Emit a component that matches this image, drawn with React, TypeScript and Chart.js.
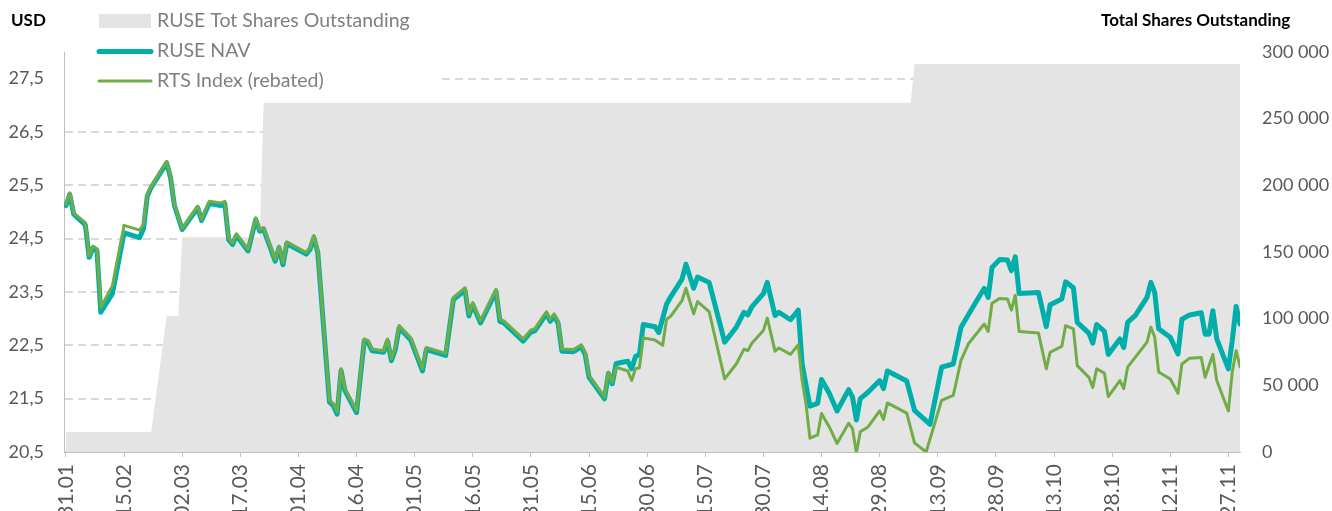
import React, { useEffect, useRef } from 'react';
import { Chart, registerables } from 'chart.js';

Chart.register(...registerables);

// ---- Data ----
const X_TICK_LABELS = ['31.01', '15.02', '02.03', '17.03', '01.04', '16.04', '01.05', '16.05', '31.05', '15.06', '30.06', '15.07', '30.07', '14.08', '29.08', '13.09', '28.09', '13.10', '28.10', '12.11', '27.11'];
const X_TICK_STEP = 15; // days between labels
const X_LAST_DAY = 303;

const LEFT_TICKS = [20.5, 21.5, 22.5, 23.5, 24.5, 25.5, 26.5, 27.5];
const LEFT_MIN = 20.5;
const LEFT_MAX = 28;
const RIGHT_MIN = 0;
const RIGHT_MAX = 300000;
const RIGHT_STEP = 50000;

// day offsets from 31.01
const SHARE_DAYS = [0, 22, 26, 29, 30, 50, 51, 218, 219, 303];
const SHARE_VALUES = [15000, 15000, 102000, 102000, 161000, 161000, 262000, 262000, 291000, 291000];

const NAV_DAYS = [0, 1, 2, 5, 6, 7, 8, 9, 12, 15, 19, 20, 21, 22, 26, 27, 28, 30, 34, 35, 37, 40, 41, 42, 43, 44, 47, 49, 50, 51, 54, 55, 56, 57, 62, 63, 64, 65, 68, 69, 70, 71, 72, 75, 77, 78, 79, 82, 83, 84, 85, 86, 89, 92, 93, 98, 100, 103, 104, 105, 107, 111, 112, 113, 118, 120, 121, 124, 125, 126, 127, 128, 131, 133, 134, 135, 139, 140, 141, 142,
  145, 146, 147, 148, 149, 152, 153, 155, 156, 159, 160, 162, 163, 166, 170, 173, 175, 176, 177, 180, 181, 183, 184, 187, 189, 190, 192, 194, 195, 197, 199, 202, 203, 204, 205, 207, 210, 211, 212, 217, 219, 223, 226, 229, 231, 234, 237, 238, 239, 241, 243, 244, 245, 246, 251, 253, 254, 257, 258, 260, 261, 264, 265, 266, 268, 269, 272, 273, 274, 276, 279, 280, 281, 282, 285, 287, 288, 290, 293, 294, 295, 296, 297, 300, 301, 302, 303];
const NAV_VALUES = [25.12, 25.33, 24.96, 24.76, 24.15, 24.33, 24.28, 23.12, 23.47, 24.61, 24.52, 24.68, 25.30, 25.46, 25.92, 25.64, 25.12, 24.67, 25.08, 24.84, 25.16, 25.12, 25.16, 24.48, 24.39, 24.56, 24.27, 24.86, 24.64, 24.68, 24.08, 24.33, 24.01, 24.41, 24.21, 24.30, 24.52, 24.24, 21.44, 21.37, 21.21, 22.03, 21.65, 21.24, 22.59, 22.55, 22.40, 22.37, 22.58, 22.21, 22.42, 22.83, 22.60, 22.02, 22.42, 22.31, 23.36, 23.53, 23.05, 23.26, 22.92, 23.51, 22.95, 22.92, 22.58, 22.75, 22.77, 23.09, 22.95, 23.05, 22.92, 22.39, 22.38, 22.47, 22.33, 21.90, 21.50, 21.97, 21.78, 22.16,
  22.20, 22.06, 22.29, 22.33, 22.89, 22.85, 22.74, 23.27, 23.40, 23.74, 24.02, 23.57, 23.78, 23.68, 22.56, 22.84, 23.12, 23.07, 23.22, 23.47, 23.68, 23.06, 23.12, 22.98, 23.16, 22.15, 21.36, 21.41, 21.86, 21.60, 21.27, 21.67, 21.53, 21.10, 21.50, 21.62, 21.84, 21.69, 22.02, 21.83, 21.28, 21.02, 22.09, 22.15, 22.84, 23.21, 23.57, 23.40, 23.96, 24.11, 24.10, 23.90, 24.16, 23.47, 23.49, 22.85, 23.26, 23.37, 23.69, 23.58, 22.93, 22.73, 22.54, 22.89, 22.76, 22.33, 22.62, 22.46, 22.93, 23.06, 23.40, 23.68, 23.49, 22.81, 22.65, 22.34, 22.99, 23.07, 23.11, 22.71, 22.71, 23.15, 22.62, 22.06, 22.59, 23.23, 22.90];

const RTS_DAYS = [0, 1, 2, 5, 6, 7, 8, 9, 12, 15, 19, 20, 21, 22, 26, 27, 28, 30, 34, 35, 37, 40, 41, 42, 43, 44, 47, 49, 50, 51, 54, 55, 56, 57, 62, 63, 64, 65, 68, 69, 70, 71, 72, 75, 77, 78, 79, 82, 83, 84, 85, 86, 89, 92, 93, 98, 100, 103, 104, 105, 107, 111, 112, 113, 118, 120, 121, 124, 125, 126, 127, 128, 131, 133, 134, 135, 139, 140, 141, 142,
  145, 146, 147, 148, 149, 152, 154, 155, 156, 159, 160, 162, 163, 166, 170, 173, 175, 176, 177, 180, 181, 183, 184, 187, 189, 190, 191, 192, 194, 195, 197, 199, 202, 203, 204, 205, 207, 210, 211, 212, 217, 219, 222, 226, 229, 231, 233, 237, 238, 239, 241, 243, 244, 245, 246, 251, 253, 254, 257, 258, 260, 261, 264, 265, 266, 268, 269, 272, 273, 274, 279, 280, 281, 282, 285, 287, 288, 290, 293, 294, 296, 297, 300, 301, 302, 303];
const RTS_VALUES = [25.14, 25.36, 24.98, 24.80, 24.18, 24.36, 24.31, 23.21, 23.62, 24.75, 24.66, 24.77, 25.33, 25.48, 25.95, 25.67, 25.14, 24.69, 25.11, 24.86, 25.20, 25.17, 25.20, 24.51, 24.42, 24.59, 24.30, 24.89, 24.67, 24.71, 24.11, 24.36, 24.05, 24.44, 24.24, 24.33, 24.56, 24.27, 21.47, 21.41, 21.25, 22.06, 21.69, 21.28, 22.62, 22.59, 22.43, 22.40, 22.62, 22.25, 22.46, 22.87, 22.64, 22.06, 22.46, 22.35, 23.40, 23.58, 23.09, 23.30, 22.96, 23.55, 22.99, 22.96, 22.62, 22.79, 22.81, 23.13, 22.99, 23.09, 22.96, 22.43, 22.42, 22.51, 22.37, 21.94, 21.53, 22.00, 21.81, 22.09,
  22.02, 21.84, 22.06, 22.08, 22.64, 22.60, 22.50, 22.99, 23.04, 23.34, 23.57, 23.09, 23.32, 23.13, 21.87, 22.15, 22.43, 22.40, 22.54, 22.78, 23.01, 22.39, 22.45, 22.33, 22.51, 21.84, 21.40, 20.76, 20.82, 21.22, 20.97, 20.66, 21.04, 20.94, 20.48, 20.88, 20.97, 21.27, 21.11, 21.42, 21.23, 20.67, 20.50, 21.47, 21.56, 22.22, 22.54, 22.90, 22.76, 23.29, 23.38, 23.37, 23.16, 23.44, 22.76, 22.73, 22.06, 22.37, 22.48, 22.87, 22.81, 22.12, 21.90, 21.71, 22.06, 21.98, 21.54, 21.84, 21.69, 22.09, 22.56, 22.84, 22.65, 22.00, 21.87, 21.60, 22.15, 22.26, 22.27, 21.90, 22.33, 21.84, 21.27, 22.00, 22.40, 22.10];

const SERIES_NAMES = ['RUSE Tot Shares Outstanding', 'RUSE NAV', 'RTS Index (rebated)'];
const LEFT_TITLE = 'USD';
const RIGHT_TITLE = 'Total Shares Outstanding';

// ---- Styles ----
const FONT = 'Lato, "Open Sans", sans-serif';
const AREA_COLOR = '#e4e4e4';
const NAV_COLOR = '#00aeaa';
const RTS_COLOR = '#70ad47';
const TICK_COLOR = '#595959';
const LEGEND_COLOR = '#7f7f7f';
const AXIS_COLOR = '#bfbfbf';
const GRID_COLOR = '#d9d9d9';

const toPoints = (xs: number[], ys: number[]) => xs.map((x, i) => ({ x, y: ys[i] }));
const fmtThousands = (v: number) => String(Math.round(v)).replace(/\B(?=(\d{3})+(?!\d))/g, ' ');

const overlayPlugin = {
  id: 'overlay',
  beforeDatasetsDraw(chart: any) {
    const { ctx, chartArea } = chart;
    ctx.save();
    ctx.fillStyle = '#ffffff';
    ctx.fillRect(chartArea.left + 1, chartArea.top, 440 - chartArea.left - 1, 44);
    ctx.restore();
  },
  afterDraw(chart: any) {
    const { ctx } = chart;
    ctx.save();
    ctx.textBaseline = 'middle';
    ctx.textAlign = 'left';
    // axis titles
    ctx.fillStyle = '#000000';
    ctx.font = `bold 17px ${FONT}`;
    ctx.fillText(LEFT_TITLE, 11, 21);
    ctx.fillText(RIGHT_TITLE, 1101, 21);
    // legend
    ctx.font = `19.5px ${FONT}`;
    ctx.fillStyle = AREA_COLOR;
    ctx.fillRect(99, 14, 52, 14);
    ctx.lineCap = 'round';
    ctx.strokeStyle = NAV_COLOR;
    ctx.lineWidth = 5;
    ctx.beginPath();
    ctx.moveTo(99, 51.5);
    ctx.lineTo(151, 51.5);
    ctx.stroke();
    ctx.strokeStyle = RTS_COLOR;
    ctx.lineWidth = 3;
    ctx.beginPath();
    ctx.moveTo(99, 81);
    ctx.lineTo(151, 81);
    ctx.stroke();
    ctx.fillStyle = LEGEND_COLOR;
    ctx.fillText(SERIES_NAMES[0], 157, 21);
    ctx.fillText(SERIES_NAMES[1], 157, 51);
    ctx.fillText(SERIES_NAMES[2], 157, 81);
    ctx.restore();
  },
};

export default function App() {
  const canvasRef = useRef<HTMLCanvasElement | null>(null);

  useEffect(() => {
    const canvas = canvasRef.current;
    if (!canvas) return;
    const chart = new Chart(canvas, {
      type: 'line',
      data: {
        datasets: [
          {
            label: SERIES_NAMES[2],
            data: toPoints(RTS_DAYS, RTS_VALUES),
            borderColor: RTS_COLOR,
            borderWidth: 3,
            pointRadius: 0,
            tension: 0,
            borderJoinStyle: 'round',
            borderCapStyle: 'round',
            yAxisID: 'y',
            order: 1,
          },
          {
            label: SERIES_NAMES[1],
            data: toPoints(NAV_DAYS, NAV_VALUES),
            borderColor: NAV_COLOR,
            borderWidth: 5,
            pointRadius: 0,
            tension: 0,
            borderJoinStyle: 'round',
            borderCapStyle: 'round',
            yAxisID: 'y',
            order: 2,
          },
          {
            label: SERIES_NAMES[0],
            data: toPoints(SHARE_DAYS, SHARE_VALUES),
            borderWidth: 0,
            borderColor: AREA_COLOR,
            backgroundColor: AREA_COLOR,
            fill: 'origin',
            pointRadius: 0,
            tension: 0,
            yAxisID: 'y1',
            order: 3,
          },
        ],
      },
      options: {
        responsive: false,
        animation: false,
        devicePixelRatio: 1,
        layout: { padding: { top: 52, left: 0, right: 0, bottom: 0 } },
        plugins: {
          legend: { display: false },
          tooltip: { enabled: false },
        },
        scales: {
          x: {
            type: 'linear',
            min: -0.5,
            max: X_LAST_DAY,
            afterBuildTicks: (scale: any) => {
              scale.ticks = X_TICK_LABELS.map((_, i) => ({ value: i * X_TICK_STEP }));
            },
            afterFit: (scale: any) => {
              scale.height = 59;
            },
            ticks: {
              autoSkip: false,
              minRotation: 90,
              maxRotation: 90,
              padding: 7,
              color: TICK_COLOR,
              font: { family: FONT, size: 21 },
              callback: (v: any) => {
                const idx = Math.round(Number(v) / X_TICK_STEP);
                return X_TICK_LABELS[idx] ?? '';
              },
            },
            grid: {
              drawOnChartArea: false,
              drawTicks: true,
              tickLength: 5,
              color: AXIS_COLOR,
            },
            border: { display: true, color: AXIS_COLOR, width: 1 },
          },
          y: {
            type: 'linear',
            position: 'left',
            min: LEFT_MIN,
            max: LEFT_MAX,
            afterBuildTicks: (scale: any) => {
              scale.ticks = LEFT_TICKS.map((v) => ({ value: v }));
            },
            afterFit: (scale: any) => {
              scale.width = 64;
            },
            ticks: {
              padding: 20,
              color: TICK_COLOR,
              font: { family: FONT, size: 18 },
              callback: (v: any) => Number(v).toFixed(1).replace('.', ','),
            },
            grid: {
              drawTicks: false,
              color: GRID_COLOR,
              lineWidth: 2,
            },
            border: { display: true, color: AXIS_COLOR, width: 1, dash: [8, 5] },
          },
          y1: {
            type: 'linear',
            position: 'right',
            min: RIGHT_MIN,
            max: RIGHT_MAX,
            afterFit: (scale: any) => {
              scale.width = 92;
            },
            ticks: {
              stepSize: RIGHT_STEP,
              padding: 22,
              color: TICK_COLOR,
              font: { family: FONT, size: 18 },
              callback: (v: any) => fmtThousands(Number(v)),
            },
            grid: { display: false, drawTicks: false },
            border: { display: false },
          },
        },
      },
      plugins: [overlayPlugin],
    } as any);
    return () => chart.destroy();
  }, []);

  return (
    <div style={{ position: 'absolute', left: 0, top: 0, width: 1332, height: 511, background: '#fff' }}>
      <canvas ref={canvasRef} width={1332} height={511} style={{ display: 'block' }} />
    </div>
  );
}
